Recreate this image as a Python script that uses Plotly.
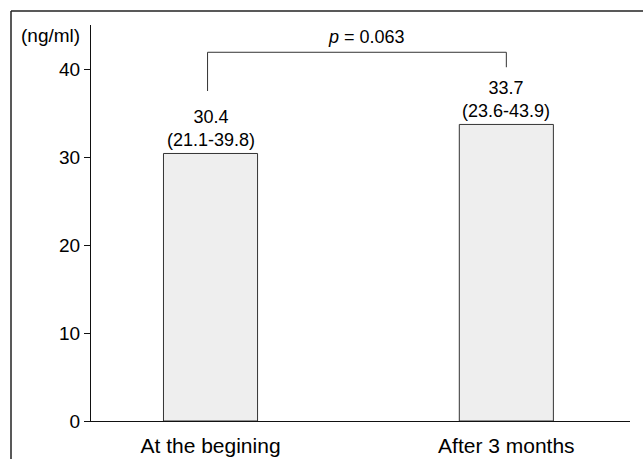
import plotly.graph_objects as go

categories = ["At the begining", "After 3 months"]
medians = [30.4, 33.7]
ranges = ["(21.1-39.8)", "(23.6-43.9)"]
p_label = "<i>p</i> = 0.063"
y_ticks = [0, 10, 20, 30, 40]
bracket_y = [37.5, 41.9, 40.2]  # left foot, top, right foot

FONT = "Liberation Sans, Arial, sans-serif"
W, H = 643, 459
ML, MR, MT, MB = 91, 13, 25, 38
pw = W - ML - MR
ph = H - MT - MB
TXT = "#000000"

fig = go.Figure()
fig.add_trace(go.Bar(
    x=[0, 1], y=medians, width=0.318,
    marker=dict(color="#eeeeee", line=dict(color="#333333", width=1)),
    hoverinfo="skip", showlegend=False,
))

annotations = []
for i, (m, r) in enumerate(zip(medians, ranges)):
    annotations.append(dict(
        x=i, y=m, xref="x", yref="y", text=f"{m}<br>{r}",
        showarrow=False, yanchor="bottom", xanchor="center", yshift=1,
        font=dict(family=FONT, size=18, color=TXT),
    ))
annotations.append(dict(
    x=0.526, y=43.6, xref="x", yref="y", text=p_label, showarrow=False,
    xanchor="center", yanchor="middle",
    font=dict(family=FONT, size=18, color=TXT),
))
annotations.append(dict(
    x=(50 - ML) / pw, y=1 + (MT - 35) / ph, xref="paper", yref="paper",
    text="(ng/ml)", showarrow=False, xanchor="center", yanchor="middle",
    font=dict(family=FONT, size=19, color=TXT),
))

shapes = [
    dict(type="path", xref="x", yref="y",
         path=f"M -0.01 {bracket_y[0]} L -0.01 {bracket_y[1]} L 1.0 {bracket_y[1]} L 1.0 {bracket_y[2]}",
         line=dict(color="#333333", width=1)),
    # outer frame (top and left edges)
    dict(type="line", xref="paper", yref="paper",
         x0=(11 - ML) / pw, x1=(11 - ML) / pw, y0=-0.3, y1=1 + (MT - 11) / ph,
         line=dict(color="#222222", width=1.5)),
    dict(type="line", xref="paper", yref="paper",
         x0=(11 - ML) / pw, x1=1.2, y0=1 + (MT - 11) / ph, y1=1 + (MT - 11) / ph,
         line=dict(color="#222222", width=1.5)),
]

fig.update_layout(
    width=W, height=H,
    margin=dict(l=ML, r=MR, t=MT, b=MB, pad=0),
    paper_bgcolor="white", plot_bgcolor="white",
    font=dict(family=FONT, size=18, color=TXT),
    annotations=annotations, shapes=shapes,
    xaxis=dict(
        range=[-0.404, 1.418], tickvals=[0, 1], ticktext=categories,
        showline=True, linecolor="#111111", linewidth=1,
        ticks="", showgrid=False, zeroline=False, automargin=False,
        ticklabelstandoff=6,
        tickfont=dict(family=FONT, size=21, color=TXT),
    ),
    yaxis=dict(
        range=[0, 45], tickvals=y_ticks,
        showline=True, linecolor="#111111", linewidth=1,
        ticks="outside", ticklen=6, tickcolor="#111111",
        showgrid=False, zeroline=False, automargin=False,
        tickfont=dict(family=FONT, size=19, color=TXT),
    ),
)

fig.write_html(
    "out.html",
    config={"displayModeBar": False},
    post_script="document.body.style.margin='0';document.body.style.overflow='hidden';",
)
